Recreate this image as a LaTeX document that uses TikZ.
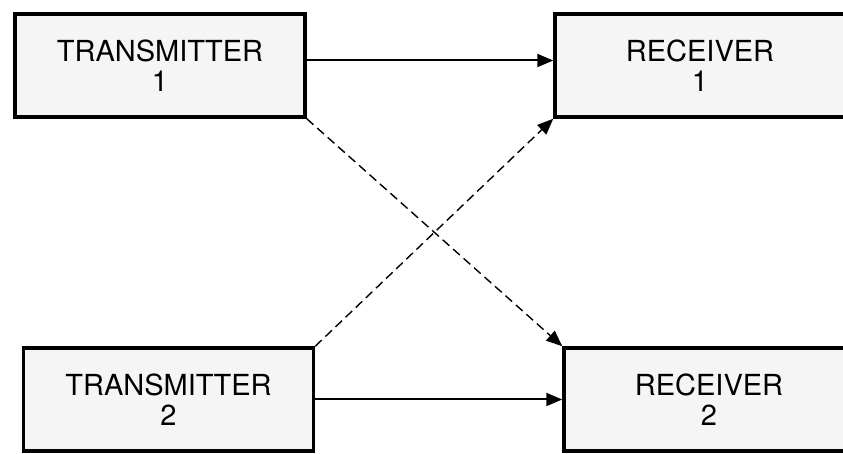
\documentclass[tikz,border=0pt]{standalone}
\usepackage{fontspec}
\setmainfont{TeX Gyre Heros}
\usetikzlibrary{arrows.meta}

\begin{document}
\begin{tikzpicture}[x=1pt,y=1pt,>={Triangle[length=16pt,width=13pt]},
    box/.style={draw,line width=3.5pt,fill=gray!8,minimum width=290pt,minimum height=103pt,
      align=center,font=\fontsize{29}{30}\selectfont},
    link/.style={->,line width=2pt},
    cross/.style={->,line width=1.4pt,dash pattern=on 9pt off 5pt}]
  \clip (0,0) rectangle (843,454);
  % senders on the left, receivers on the right
  \node[box] (tx1) at (160,388.5) {TRANSMITTER\\1};
  \node[box] (rx1) at (700,388.5) {RECEIVER\\1};
  \node[box] (tx2) at (168.5,54.5) {TRANSMITTER\\2};
  \node[box] (rx2) at (709,54.5) {RECEIVER\\2};
  % wanted paths
  \draw[link] ([yshift=5pt]tx1.east) -- ([yshift=5pt]rx1.west);
  \draw[link] (tx2.east) -- (rx2.west);
  % crosstalk
  \draw[cross] (tx1.south east) -- (rx2.north west);
  \draw[cross] (tx2.north east) -- (rx1.south west);
\end{tikzpicture}
\end{document}
